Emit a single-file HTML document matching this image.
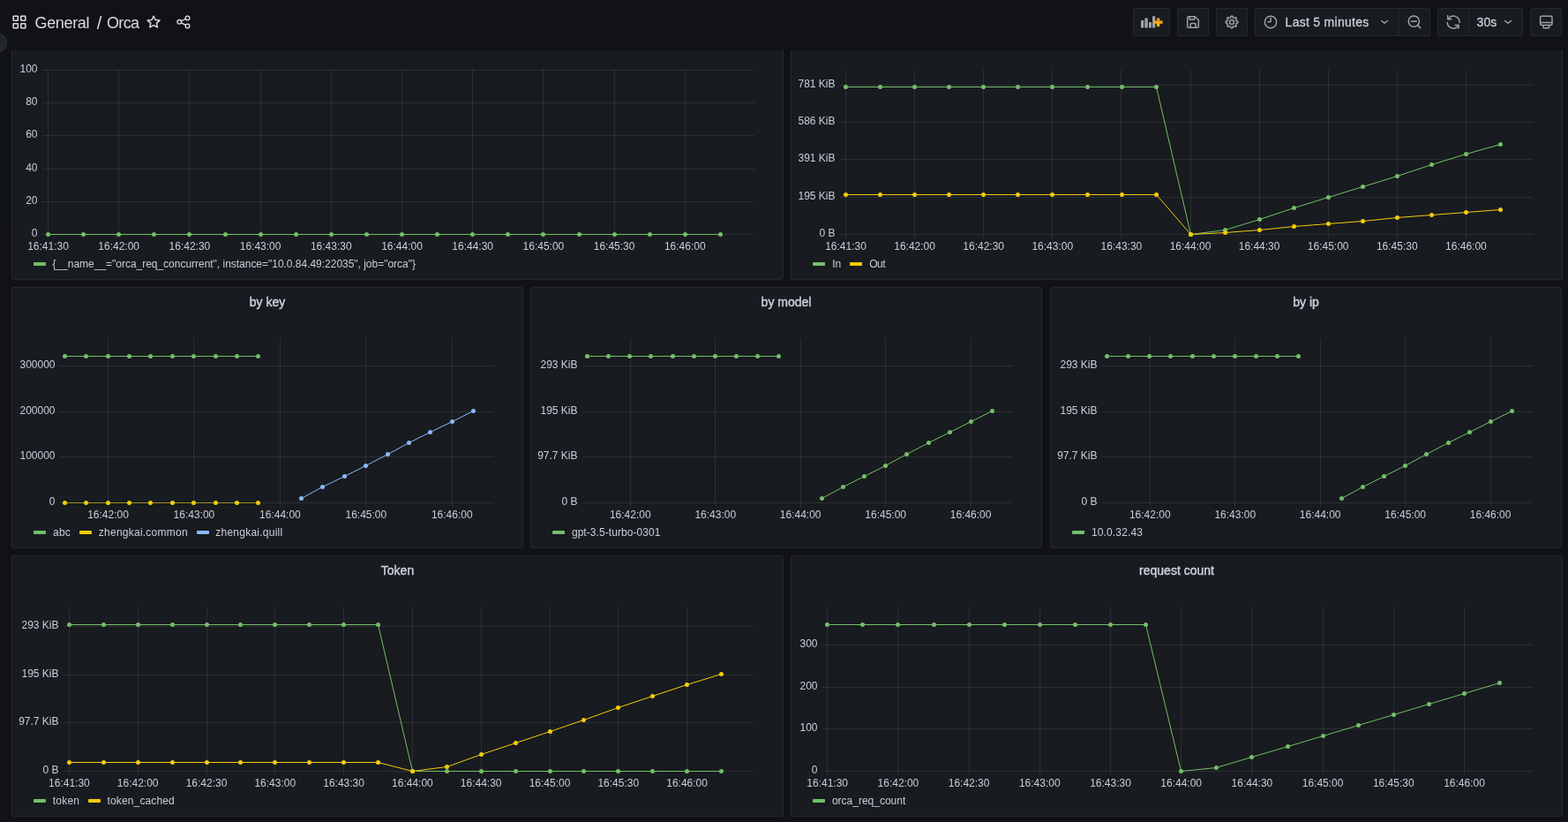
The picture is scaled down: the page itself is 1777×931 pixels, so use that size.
<!DOCTYPE html><html><head><meta charset="utf-8"><title>Orca - Dashboards - Grafana</title><style>

*{box-sizing:border-box}
html,body{margin:0;padding:0}
body{width:1777px;height:931px;background:#111217;overflow:hidden;position:relative;font-family:"Liberation Sans", "DejaVu Sans", sans-serif;color:#ccccdc}
.abs{position:absolute}
.panel{position:absolute;background:#181b1f;border:1px solid rgba(204,204,220,0.08);border-radius:3px}
.ptitle{position:absolute;left:0;right:0;top:6px;text-align:center;font-size:14px;font-weight:normal;-webkit-text-stroke:0.45px #ccccdc;color:#ccccdc;line-height:20px}
.btn{position:absolute;top:9px;height:32px;background:#181b1f;border:1px solid rgba(204,204,220,0.08);border-radius:2px}
.legend{position:absolute;font-size:12px;color:#ccccdc;white-space:nowrap;line-height:16px}
.legend .it{display:inline-block;margin-right:10px}
.legend .bar{display:inline-block;width:14px;height:4px;border-radius:1px;margin-right:8px;vertical-align:middle;position:relative;top:-1px}
.lg{font-size:12px;line-height:16px;white-space:nowrap;color:#ccccdc}
svg text{font-family:"Liberation Sans", "DejaVu Sans", sans-serif;font-size:12px;fill:#ccccdc}

</style></head><body>
<div class="abs" style="left:14px;top:17px;width:16px;height:16px"><svg width="16" height="16" viewBox="0 0 16 16" fill="none" stroke="#d8d9e3" stroke-width="1.6"><rect x="1.2" y="1.2" width="5.1" height="5.1" rx="0.5"/><rect x="9.8" y="1.2" width="5.0" height="5.1" rx="0.5"/><rect x="1.2" y="9.8" width="5.1" height="5.0" rx="0.5"/><rect x="9.8" y="9.8" width="5.0" height="5.0" rx="0.5"/></svg></div>
<div class="abs" style="left:39.5px;top:14px;font-size:18px;line-height:24px;color:#d8d9e3;white-space:nowrap;letter-spacing:-0.35px">General</div>
<div class="abs" style="left:109.8px;top:14.4px;font-size:20px;line-height:24px;color:#d8d9e3;white-space:nowrap">/</div>
<div class="abs" style="left:121px;top:14px;font-size:18px;line-height:24px;color:#d8d9e3;white-space:nowrap;letter-spacing:-0.65px">Orca</div>
<svg class="abs" style="left:165px;top:16px" width="18" height="18" viewBox="0 0 18 18"><path d="M9.1 2.2 L11.1 6.5 L16 7.1 L12.4 10.4 L13.4 14.9 L9.1 12.6 L4.8 14.9 L5.8 10.4 L2.2 7.1 L7.1 6.5 Z" fill="none" stroke="#d8d9e3" stroke-width="1.5" stroke-linejoin="round"/></svg>
<svg class="abs" style="left:198px;top:15px" width="20" height="20" viewBox="0 0 20 20" fill="none" stroke="#d8d9e3" stroke-width="1.4"><circle cx="5.3" cy="9.8" r="2.3"/><circle cx="14.5" cy="5.4" r="2.3"/><circle cx="14.5" cy="14.4" r="2.3"/><line x1="7.4" y1="8.8" x2="12.4" y2="6.4"/><line x1="7.4" y1="10.8" x2="12.4" y2="13.4"/></svg>
<div class="abs" style="left:-15px;top:36.5px;width:23px;height:23px;border-radius:50%;background:#22252b;border:1px solid #2f3238"></div>
<div class="btn" style="left:1284px;width:42px"></div>
<svg class="abs" style="left:1290px;top:16px" width="30" height="18" viewBox="0 0 30 18"><defs><linearGradient id="gp" x1="0" y1="0" x2="0" y2="1"><stop offset="0" stop-color="#f58a30"/><stop offset="1" stop-color="#fcc30f"/></linearGradient></defs><rect x="3" y="7" width="3.2" height="8.4" rx="0.5" fill="#9fa0a8"/><rect x="7.3" y="4.5" width="3.5" height="10.9" rx="0.5" fill="#9fa0a8"/><rect x="12" y="9" width="3" height="6.4" rx="0.5" fill="#9fa0a8"/><rect x="16" y="2.3" width="3.2" height="13.1" rx="0.5" fill="#9fa0a8"/><path d="M21.2 4.8h2.8v3h3.2v2.8h-3.2v3.2h-2.8v-3.2h-3.2v-2.8h3.2z" fill="url(#gp)" stroke="url(#gp)" stroke-width="0.6" stroke-linejoin="round"/></svg>
<div class="btn" style="left:1334px;width:36px"></div>
<svg class="abs" style="left:1342px;top:15px" width="20" height="20" viewBox="0 0 20 20" fill="none" stroke="#9fa0a8" stroke-width="1.5" stroke-linejoin="round"><path d="M5.2 3.75h7.1l4 4.1v7.2a1.3 1.3 0 0 1-1.3 1.3H5a1.3 1.3 0 0 1-1.3-1.3V5.1a1.3 1.3 0 0 1 1.3-1.35z"/><path d="M6.2 3.9v2.5a0.8 0.8 0 0 0 0.8 0.8h3.8a0.8 0.8 0 0 0 0.8-0.8V3.9"/><path d="M7.1 16.2v-3.5a1.1 1.1 0 0 1 1.1-1.1h3.7a1.1 1.1 0 0 1 1.1 1.1v3.5"/></svg>
<div class="btn" style="left:1378px;width:36px"></div>
<svg class="abs" style="left:1386px;top:15px" width="20" height="20" viewBox="0 0 20 20" fill="none" stroke="#9fa0a8" stroke-width="1.45" stroke-linejoin="round"><path d="M16.85 10.00 L16.84 10.18 L16.81 10.36 L16.77 10.53 L16.70 10.70 L16.61 10.87 L16.48 11.03 L16.28 11.16 L15.49 11.17 L15.29 11.27 L15.15 11.38 L15.04 11.49 L14.96 11.61 L14.88 11.73 L14.81 11.85 L14.76 11.97 L14.71 12.10 L14.67 12.23 L14.64 12.37 L14.62 12.51 L14.62 12.67 L14.64 12.84 L14.71 13.06 L15.26 13.62 L15.31 13.86 L15.29 14.06 L15.24 14.24 L15.16 14.41 L15.07 14.57 L14.96 14.71 L14.84 14.84 L14.71 14.96 L14.57 15.07 L14.41 15.16 L14.24 15.24 L14.06 15.29 L13.86 15.31 L13.62 15.26 L13.06 14.71 L12.84 14.64 L12.67 14.62 L12.51 14.62 L12.37 14.64 L12.23 14.67 L12.10 14.71 L11.97 14.76 L11.85 14.81 L11.73 14.88 L11.61 14.96 L11.49 15.04 L11.38 15.15 L11.27 15.29 L11.17 15.49 L11.16 16.28 L11.03 16.48 L10.87 16.61 L10.70 16.70 L10.53 16.77 L10.36 16.81 L10.18 16.84 L10.00 16.85 L9.82 16.84 L9.64 16.81 L9.47 16.77 L9.30 16.70 L9.13 16.61 L8.97 16.48 L8.84 16.28 L8.83 15.49 L8.73 15.29 L8.62 15.15 L8.51 15.04 L8.39 14.96 L8.27 14.88 L8.15 14.81 L8.03 14.76 L7.90 14.71 L7.77 14.67 L7.63 14.64 L7.49 14.62 L7.33 14.62 L7.16 14.64 L6.94 14.71 L6.38 15.26 L6.14 15.31 L5.94 15.29 L5.76 15.24 L5.59 15.16 L5.43 15.07 L5.29 14.96 L5.16 14.84 L5.04 14.71 L4.93 14.57 L4.84 14.41 L4.76 14.24 L4.71 14.06 L4.69 13.86 L4.74 13.62 L5.29 13.06 L5.36 12.84 L5.38 12.67 L5.38 12.51 L5.36 12.37 L5.33 12.23 L5.29 12.10 L5.24 11.97 L5.19 11.85 L5.12 11.73 L5.04 11.61 L4.96 11.49 L4.85 11.38 L4.71 11.27 L4.51 11.17 L3.72 11.16 L3.52 11.03 L3.39 10.87 L3.30 10.70 L3.23 10.53 L3.19 10.36 L3.16 10.18 L3.15 10.00 L3.16 9.82 L3.19 9.64 L3.23 9.47 L3.30 9.30 L3.39 9.13 L3.52 8.97 L3.72 8.84 L4.51 8.83 L4.71 8.73 L4.85 8.62 L4.96 8.51 L5.04 8.39 L5.12 8.27 L5.19 8.15 L5.24 8.03 L5.29 7.90 L5.33 7.77 L5.36 7.63 L5.38 7.49 L5.38 7.33 L5.36 7.16 L5.29 6.94 L4.74 6.38 L4.69 6.14 L4.71 5.94 L4.76 5.76 L4.84 5.59 L4.93 5.43 L5.04 5.29 L5.16 5.16 L5.29 5.04 L5.43 4.93 L5.59 4.84 L5.76 4.76 L5.94 4.71 L6.14 4.69 L6.38 4.74 L6.94 5.29 L7.16 5.36 L7.33 5.38 L7.49 5.38 L7.63 5.36 L7.77 5.33 L7.90 5.29 L8.03 5.24 L8.15 5.19 L8.27 5.12 L8.39 5.04 L8.51 4.96 L8.62 4.85 L8.73 4.71 L8.83 4.51 L8.84 3.72 L8.97 3.52 L9.13 3.39 L9.30 3.30 L9.47 3.23 L9.64 3.19 L9.82 3.16 L10.00 3.15 L10.18 3.16 L10.36 3.19 L10.53 3.23 L10.70 3.30 L10.87 3.39 L11.03 3.52 L11.16 3.72 L11.17 4.51 L11.27 4.71 L11.38 4.85 L11.49 4.96 L11.61 5.04 L11.73 5.12 L11.85 5.19 L11.97 5.24 L12.10 5.29 L12.23 5.33 L12.37 5.36 L12.51 5.38 L12.67 5.38 L12.84 5.36 L13.06 5.29 L13.62 4.74 L13.86 4.69 L14.06 4.71 L14.24 4.76 L14.41 4.84 L14.57 4.93 L14.71 5.04 L14.84 5.16 L14.96 5.29 L15.07 5.43 L15.16 5.59 L15.24 5.76 L15.29 5.94 L15.31 6.14 L15.26 6.38 L14.71 6.94 L14.64 7.16 L14.62 7.33 L14.62 7.49 L14.64 7.63 L14.67 7.77 L14.71 7.90 L14.76 8.03 L14.81 8.15 L14.88 8.27 L14.96 8.39 L15.04 8.51 L15.15 8.62 L15.29 8.73 L15.49 8.83 L16.28 8.84 L16.48 8.97 L16.61 9.13 L16.70 9.30 L16.77 9.47 L16.81 9.64 L16.84 9.82Z"/><circle cx="10" cy="10" r="2.45"/></svg>
<div class="btn" style="left:1422px;width:199px"></div>
<div class="abs" style="left:1585px;top:10px;width:1px;height:30px;background:rgba(204,204,220,0.08)"></div>
<svg class="abs" style="left:1430px;top:15px" width="20" height="20" viewBox="0 0 20 20" fill="none" stroke="#9fa0a8" stroke-width="1.5"><circle cx="10" cy="10" r="6.65"/><path d="M10 5.6v4.2H7" stroke-linecap="round" stroke-linejoin="round"/></svg>
<div class="abs" style="left:1456.6px;top:15.6px;font-size:14px;line-height:18px;color:#ccccdc;white-space:nowrap;letter-spacing:0.28px;-webkit-text-stroke:0.3px #ccccdc">Last 5 minutes</div>
<svg class="abs" style="left:1560px;top:15px" width="20" height="20" viewBox="0 0 20 20" fill="none" stroke="#9fa0a8" stroke-width="1.4" stroke-linecap="round" stroke-linejoin="round"><path d="M5.7 8.5L9 11.3L12.5 8.5"/></svg>
<svg class="abs" style="left:1592px;top:14px" width="22" height="22" viewBox="0 0 22 22" fill="none" stroke="#9fa0a8" stroke-width="1.5"><circle cx="10.3" cy="10.1" r="6.1"/><path d="M6.7 10.2h7.2"/><path d="M14.6 14.6l3.2 3.2" stroke-linecap="round"/></svg>
<div class="btn" style="left:1629px;width:97px"></div>
<div class="abs" style="left:1664px;top:10px;width:1px;height:30px;background:rgba(204,204,220,0.08)"></div>
<svg class="abs" style="left:1636px;top:14px" width="22" height="22" viewBox="0 0 22 22" fill="none" stroke="#9fa0a8" stroke-width="1.5" stroke-linecap="round" stroke-linejoin="round"><path d="M5.59 6.95A6.9 6.9 0 0 1 17.99 11.46"/><path d="M16.75 15.06A6.9 6.9 0 0 1 4.21 11.46"/><path d="M4.7 3.8v4h4"/><path d="M17 18.2v-3.8h-3.8"/></svg>
<div class="abs" style="left:1673.6px;top:15.6px;font-size:14px;line-height:18px;color:#ccccdc;white-space:nowrap;-webkit-text-stroke:0.3px #ccccdc">30s</div>
<svg class="abs" style="left:1700px;top:15px" width="20" height="20" viewBox="0 0 20 20" fill="none" stroke="#9fa0a8" stroke-width="1.4" stroke-linecap="round" stroke-linejoin="round"><path d="M5.7 8.5L9 11.3L12.5 8.5"/></svg>
<div class="btn" style="left:1734px;width:36px"></div>
<svg class="abs" style="left:1741px;top:14px" width="22" height="22" viewBox="0 0 22 22" fill="none" stroke="#9fa0a8" stroke-width="1.5"><rect x="4.6" y="4.3" width="13.4" height="10.3" rx="1.5"/><path d="M4.7 11.5h13.2"/><path d="M8.1 14.7v2.2a0.9 0.9 0 0 0 0.9 0.9h4.7a0.9 0.9 0 0 0 0.9-0.9V14.7"/></svg>
<div class="panel" style="left:13px;top:57px;width:875px;height:260px;border-top:none;border-top-left-radius:0;border-top-right-radius:0;">
</div>
<div class="panel" style="left:896px;top:57px;width:875px;height:260px;border-top:none;border-top-left-radius:0;border-top-right-radius:0;">
</div>
<div class="panel" style="left:13px;top:325px;width:580px;height:296px;">
<div class="ptitle">by key</div>
</div>
<div class="panel" style="left:601px;top:325px;width:580px;height:296px;">
<div class="ptitle">by model</div>
</div>
<div class="panel" style="left:1190px;top:325px;width:580px;height:296px;">
<div class="ptitle">by ip</div>
</div>
<div class="panel" style="left:13px;top:629px;width:875px;height:296px;">
<div class="ptitle">Token</div>
</div>
<div class="panel" style="left:896px;top:629px;width:875px;height:296px;">
<div class="ptitle">request count</div>
</div>
<svg class="abs" style="left:0;top:0" width="1777" height="931" viewBox="0 0 1777 931">
<line x1="48" y1="265.5" x2="855" y2="265.5" stroke="rgba(240,250,255,0.09)" stroke-width="1"/>
<text x="42.5" y="267.9" text-anchor="end">0</text>
<line x1="48" y1="228.5" x2="855" y2="228.5" stroke="rgba(240,250,255,0.09)" stroke-width="1"/>
<text x="42.5" y="230.9" text-anchor="end">20</text>
<line x1="48" y1="191.5" x2="855" y2="191.5" stroke="rgba(240,250,255,0.09)" stroke-width="1"/>
<text x="42.5" y="193.9" text-anchor="end">40</text>
<line x1="48" y1="153.5" x2="855" y2="153.5" stroke="rgba(240,250,255,0.09)" stroke-width="1"/>
<text x="42.5" y="155.9" text-anchor="end">60</text>
<line x1="48" y1="116.5" x2="855" y2="116.5" stroke="rgba(240,250,255,0.09)" stroke-width="1"/>
<text x="42.5" y="118.9" text-anchor="end">80</text>
<line x1="48" y1="79.5" x2="855" y2="79.5" stroke="rgba(240,250,255,0.09)" stroke-width="1"/>
<text x="42.5" y="81.9" text-anchor="end">100</text>
<line x1="54.5" y1="79" x2="54.5" y2="270.0" stroke="rgba(240,250,255,0.09)" stroke-width="1"/>
<text x="54.5" y="283" text-anchor="middle">16:41:30</text>
<line x1="134.5" y1="79" x2="134.5" y2="270.0" stroke="rgba(240,250,255,0.09)" stroke-width="1"/>
<text x="134.7" y="283" text-anchor="middle">16:42:00</text>
<line x1="214.5" y1="79" x2="214.5" y2="270.0" stroke="rgba(240,250,255,0.09)" stroke-width="1"/>
<text x="214.9" y="283" text-anchor="middle">16:42:30</text>
<line x1="295.5" y1="79" x2="295.5" y2="270.0" stroke="rgba(240,250,255,0.09)" stroke-width="1"/>
<text x="295.1" y="283" text-anchor="middle">16:43:00</text>
<line x1="375.5" y1="79" x2="375.5" y2="270.0" stroke="rgba(240,250,255,0.09)" stroke-width="1"/>
<text x="375.3" y="283" text-anchor="middle">16:43:30</text>
<line x1="455.5" y1="79" x2="455.5" y2="270.0" stroke="rgba(240,250,255,0.09)" stroke-width="1"/>
<text x="455.5" y="283" text-anchor="middle">16:44:00</text>
<line x1="535.5" y1="79" x2="535.5" y2="270.0" stroke="rgba(240,250,255,0.09)" stroke-width="1"/>
<text x="535.7" y="283" text-anchor="middle">16:44:30</text>
<line x1="615.5" y1="79" x2="615.5" y2="270.0" stroke="rgba(240,250,255,0.09)" stroke-width="1"/>
<text x="615.9" y="283" text-anchor="middle">16:45:00</text>
<line x1="696.5" y1="79" x2="696.5" y2="270.0" stroke="rgba(240,250,255,0.09)" stroke-width="1"/>
<text x="696.1" y="283" text-anchor="middle">16:45:30</text>
<line x1="776.5" y1="79" x2="776.5" y2="270.0" stroke="rgba(240,250,255,0.09)" stroke-width="1"/>
<text x="776.3000000000001" y="283" text-anchor="middle">16:46:00</text>
<polyline points="54.5,265.5 94.5,265.5 134.5,265.5 174.5,265.5 214.5,265.5 255.5,265.5 295.5,265.5 335.5,265.5 375.5,265.5 415.5,265.5 455.5,265.5 495.5,265.5 535.5,265.5 575.5,265.5 615.5,265.5 656.5,265.5 696.5,265.5 736.5,265.5 776.5,265.5 816.5,265.5" fill="none" stroke="#73bf69" stroke-width="1"/>
<circle cx="54.5" cy="265.5" r="2.5" fill="#73bf69"/>
<circle cx="94.5" cy="265.5" r="2.5" fill="#73bf69"/>
<circle cx="134.5" cy="265.5" r="2.5" fill="#73bf69"/>
<circle cx="174.5" cy="265.5" r="2.5" fill="#73bf69"/>
<circle cx="214.5" cy="265.5" r="2.5" fill="#73bf69"/>
<circle cx="255.5" cy="265.5" r="2.5" fill="#73bf69"/>
<circle cx="295.5" cy="265.5" r="2.5" fill="#73bf69"/>
<circle cx="335.5" cy="265.5" r="2.5" fill="#73bf69"/>
<circle cx="375.5" cy="265.5" r="2.5" fill="#73bf69"/>
<circle cx="415.5" cy="265.5" r="2.5" fill="#73bf69"/>
<circle cx="455.5" cy="265.5" r="2.5" fill="#73bf69"/>
<circle cx="495.5" cy="265.5" r="2.5" fill="#73bf69"/>
<circle cx="535.5" cy="265.5" r="2.5" fill="#73bf69"/>
<circle cx="575.5" cy="265.5" r="2.5" fill="#73bf69"/>
<circle cx="615.5" cy="265.5" r="2.5" fill="#73bf69"/>
<circle cx="656.5" cy="265.5" r="2.5" fill="#73bf69"/>
<circle cx="696.5" cy="265.5" r="2.5" fill="#73bf69"/>
<circle cx="736.5" cy="265.5" r="2.5" fill="#73bf69"/>
<circle cx="776.5" cy="265.5" r="2.5" fill="#73bf69"/>
<circle cx="816.5" cy="265.5" r="2.5" fill="#73bf69"/>
<line x1="952.5" y1="265.5" x2="1737.5" y2="265.5" stroke="rgba(240,250,255,0.09)" stroke-width="1"/>
<text x="946.5" y="267.9" text-anchor="end">0 B</text>
<line x1="952.5" y1="223.5" x2="1737.5" y2="223.5" stroke="rgba(240,250,255,0.09)" stroke-width="1"/>
<text x="946.5" y="225.9" text-anchor="end">195 KiB</text>
<line x1="952.5" y1="180.5" x2="1737.5" y2="180.5" stroke="rgba(240,250,255,0.09)" stroke-width="1"/>
<text x="946.5" y="182.9" text-anchor="end">391 KiB</text>
<line x1="952.5" y1="138.5" x2="1737.5" y2="138.5" stroke="rgba(240,250,255,0.09)" stroke-width="1"/>
<text x="946.5" y="140.9" text-anchor="end">586 KiB</text>
<line x1="952.5" y1="96.5" x2="1737.5" y2="96.5" stroke="rgba(240,250,255,0.09)" stroke-width="1"/>
<text x="946.5" y="98.9" text-anchor="end">781 KiB</text>
<line x1="958.5" y1="79" x2="958.5" y2="270.0" stroke="rgba(240,250,255,0.09)" stroke-width="1"/>
<text x="958.5" y="283" text-anchor="middle">16:41:30</text>
<line x1="1036.5" y1="79" x2="1036.5" y2="270.0" stroke="rgba(240,250,255,0.09)" stroke-width="1"/>
<text x="1036.6" y="283" text-anchor="middle">16:42:00</text>
<line x1="1114.5" y1="79" x2="1114.5" y2="270.0" stroke="rgba(240,250,255,0.09)" stroke-width="1"/>
<text x="1114.7" y="283" text-anchor="middle">16:42:30</text>
<line x1="1192.5" y1="79" x2="1192.5" y2="270.0" stroke="rgba(240,250,255,0.09)" stroke-width="1"/>
<text x="1192.8" y="283" text-anchor="middle">16:43:00</text>
<line x1="1270.5" y1="79" x2="1270.5" y2="270.0" stroke="rgba(240,250,255,0.09)" stroke-width="1"/>
<text x="1270.9" y="283" text-anchor="middle">16:43:30</text>
<line x1="1349.5" y1="79" x2="1349.5" y2="270.0" stroke="rgba(240,250,255,0.09)" stroke-width="1"/>
<text x="1349.0" y="283" text-anchor="middle">16:44:00</text>
<line x1="1427.5" y1="79" x2="1427.5" y2="270.0" stroke="rgba(240,250,255,0.09)" stroke-width="1"/>
<text x="1427.1" y="283" text-anchor="middle">16:44:30</text>
<line x1="1505.5" y1="79" x2="1505.5" y2="270.0" stroke="rgba(240,250,255,0.09)" stroke-width="1"/>
<text x="1505.1999999999998" y="283" text-anchor="middle">16:45:00</text>
<line x1="1583.5" y1="79" x2="1583.5" y2="270.0" stroke="rgba(240,250,255,0.09)" stroke-width="1"/>
<text x="1583.3" y="283" text-anchor="middle">16:45:30</text>
<line x1="1661.5" y1="79" x2="1661.5" y2="270.0" stroke="rgba(240,250,255,0.09)" stroke-width="1"/>
<text x="1661.4" y="283" text-anchor="middle">16:46:00</text>
<polyline points="958.5,98.5 997.5,98.5 1036.5,98.5 1075.5,98.5 1114.5,98.5 1153.5,98.5 1192.5,98.5 1232.5,98.5 1271.5,98.5 1310.5,98.5 1349.5,265.5 1388.5,260.5 1427.5,248.5 1466.5,235.5 1505.5,223.5 1544.5,211.5 1583.5,199.5 1622.5,186.5 1661.5,174.5 1700.5,163.5" fill="none" stroke="#73bf69" stroke-width="1"/>
<circle cx="958.5" cy="98.5" r="2.5" fill="#73bf69"/>
<circle cx="997.5" cy="98.5" r="2.5" fill="#73bf69"/>
<circle cx="1036.5" cy="98.5" r="2.5" fill="#73bf69"/>
<circle cx="1075.5" cy="98.5" r="2.5" fill="#73bf69"/>
<circle cx="1114.5" cy="98.5" r="2.5" fill="#73bf69"/>
<circle cx="1153.5" cy="98.5" r="2.5" fill="#73bf69"/>
<circle cx="1192.5" cy="98.5" r="2.5" fill="#73bf69"/>
<circle cx="1232.5" cy="98.5" r="2.5" fill="#73bf69"/>
<circle cx="1271.5" cy="98.5" r="2.5" fill="#73bf69"/>
<circle cx="1310.5" cy="98.5" r="2.5" fill="#73bf69"/>
<circle cx="1349.5" cy="265.5" r="2.5" fill="#73bf69"/>
<circle cx="1388.5" cy="260.5" r="2.5" fill="#73bf69"/>
<circle cx="1427.5" cy="248.5" r="2.5" fill="#73bf69"/>
<circle cx="1466.5" cy="235.5" r="2.5" fill="#73bf69"/>
<circle cx="1505.5" cy="223.5" r="2.5" fill="#73bf69"/>
<circle cx="1544.5" cy="211.5" r="2.5" fill="#73bf69"/>
<circle cx="1583.5" cy="199.5" r="2.5" fill="#73bf69"/>
<circle cx="1622.5" cy="186.5" r="2.5" fill="#73bf69"/>
<circle cx="1661.5" cy="174.5" r="2.5" fill="#73bf69"/>
<circle cx="1700.5" cy="163.5" r="2.5" fill="#73bf69"/>
<polyline points="958.5,220.5 997.5,220.5 1036.5,220.5 1075.5,220.5 1114.5,220.5 1153.5,220.5 1192.5,220.5 1232.5,220.5 1271.5,220.5 1310.5,220.5 1349.5,265.5 1388.5,263.5 1427.5,260.5 1466.5,256.5 1505.5,253.5 1544.5,250.5 1583.5,246.5 1622.5,243.5 1661.5,240.5 1700.5,237.5" fill="none" stroke="#f2cc0c" stroke-width="1"/>
<circle cx="958.5" cy="220.5" r="2.5" fill="#f2cc0c"/>
<circle cx="997.5" cy="220.5" r="2.5" fill="#f2cc0c"/>
<circle cx="1036.5" cy="220.5" r="2.5" fill="#f2cc0c"/>
<circle cx="1075.5" cy="220.5" r="2.5" fill="#f2cc0c"/>
<circle cx="1114.5" cy="220.5" r="2.5" fill="#f2cc0c"/>
<circle cx="1153.5" cy="220.5" r="2.5" fill="#f2cc0c"/>
<circle cx="1192.5" cy="220.5" r="2.5" fill="#f2cc0c"/>
<circle cx="1232.5" cy="220.5" r="2.5" fill="#f2cc0c"/>
<circle cx="1271.5" cy="220.5" r="2.5" fill="#f2cc0c"/>
<circle cx="1310.5" cy="220.5" r="2.5" fill="#f2cc0c"/>
<circle cx="1349.5" cy="265.5" r="2.5" fill="#f2cc0c"/>
<circle cx="1388.5" cy="263.5" r="2.5" fill="#f2cc0c"/>
<circle cx="1427.5" cy="260.5" r="2.5" fill="#f2cc0c"/>
<circle cx="1466.5" cy="256.5" r="2.5" fill="#f2cc0c"/>
<circle cx="1505.5" cy="253.5" r="2.5" fill="#f2cc0c"/>
<circle cx="1544.5" cy="250.5" r="2.5" fill="#f2cc0c"/>
<circle cx="1583.5" cy="246.5" r="2.5" fill="#f2cc0c"/>
<circle cx="1622.5" cy="243.5" r="2.5" fill="#f2cc0c"/>
<circle cx="1661.5" cy="240.5" r="2.5" fill="#f2cc0c"/>
<circle cx="1700.5" cy="237.5" r="2.5" fill="#f2cc0c"/>
<line x1="68" y1="569.5" x2="559.5" y2="569.5" stroke="rgba(240,250,255,0.09)" stroke-width="1"/>
<text x="62.5" y="571.9" text-anchor="end">0</text>
<line x1="68" y1="517.5" x2="559.5" y2="517.5" stroke="rgba(240,250,255,0.09)" stroke-width="1"/>
<text x="62.5" y="519.9" text-anchor="end">100000</text>
<line x1="68" y1="466.5" x2="559.5" y2="466.5" stroke="rgba(240,250,255,0.09)" stroke-width="1"/>
<text x="62.5" y="468.9" text-anchor="end">200000</text>
<line x1="68" y1="414.5" x2="559.5" y2="414.5" stroke="rgba(240,250,255,0.09)" stroke-width="1"/>
<text x="62.5" y="416.9" text-anchor="end">300000</text>
<line x1="122.5" y1="383" x2="122.5" y2="574.0" stroke="rgba(240,250,255,0.09)" stroke-width="1"/>
<text x="122.5" y="587" text-anchor="middle">16:42:00</text>
<line x1="219.5" y1="383" x2="219.5" y2="574.0" stroke="rgba(240,250,255,0.09)" stroke-width="1"/>
<text x="219.95" y="587" text-anchor="middle">16:43:00</text>
<line x1="317.5" y1="383" x2="317.5" y2="574.0" stroke="rgba(240,250,255,0.09)" stroke-width="1"/>
<text x="317.4" y="587" text-anchor="middle">16:44:00</text>
<line x1="414.5" y1="383" x2="414.5" y2="574.0" stroke="rgba(240,250,255,0.09)" stroke-width="1"/>
<text x="414.85" y="587" text-anchor="middle">16:45:00</text>
<line x1="512.5" y1="383" x2="512.5" y2="574.0" stroke="rgba(240,250,255,0.09)" stroke-width="1"/>
<text x="512.3" y="587" text-anchor="middle">16:46:00</text>
<polyline points="73.5,403.5 97.5,403.5 122.5,403.5 146.5,403.5 170.5,403.5 195.5,403.5 219.5,403.5 244.5,403.5 268.5,403.5 292.5,403.5" fill="none" stroke="#73bf69" stroke-width="1"/>
<circle cx="73.5" cy="403.5" r="2.5" fill="#73bf69"/>
<circle cx="97.5" cy="403.5" r="2.5" fill="#73bf69"/>
<circle cx="122.5" cy="403.5" r="2.5" fill="#73bf69"/>
<circle cx="146.5" cy="403.5" r="2.5" fill="#73bf69"/>
<circle cx="170.5" cy="403.5" r="2.5" fill="#73bf69"/>
<circle cx="195.5" cy="403.5" r="2.5" fill="#73bf69"/>
<circle cx="219.5" cy="403.5" r="2.5" fill="#73bf69"/>
<circle cx="244.5" cy="403.5" r="2.5" fill="#73bf69"/>
<circle cx="268.5" cy="403.5" r="2.5" fill="#73bf69"/>
<circle cx="292.5" cy="403.5" r="2.5" fill="#73bf69"/>
<polyline points="73.5,569.5 97.5,569.5 122.5,569.5 146.5,569.5 170.5,569.5 195.5,569.5 219.5,569.5 244.5,569.5 268.5,569.5 292.5,569.5" fill="none" stroke="#f2cc0c" stroke-width="1" stroke-opacity="0.6"/>
<circle cx="73.5" cy="569.5" r="2.5" fill="#f2cc0c"/>
<circle cx="97.5" cy="569.5" r="2.5" fill="#f2cc0c"/>
<circle cx="122.5" cy="569.5" r="2.5" fill="#f2cc0c"/>
<circle cx="146.5" cy="569.5" r="2.5" fill="#f2cc0c"/>
<circle cx="170.5" cy="569.5" r="2.5" fill="#f2cc0c"/>
<circle cx="195.5" cy="569.5" r="2.5" fill="#f2cc0c"/>
<circle cx="219.5" cy="569.5" r="2.5" fill="#f2cc0c"/>
<circle cx="244.5" cy="569.5" r="2.5" fill="#f2cc0c"/>
<circle cx="268.5" cy="569.5" r="2.5" fill="#f2cc0c"/>
<circle cx="292.5" cy="569.5" r="2.5" fill="#f2cc0c"/>
<polyline points="341.5,564.5 365.5,551.5 390.5,539.5 414.5,527.5 439.5,514.5 463.5,501.5 487.5,489.5 512.5,477.5 536.5,465.5" fill="none" stroke="#8ab8ff" stroke-width="1"/>
<circle cx="341.5" cy="564.5" r="2.5" fill="#8ab8ff"/>
<circle cx="365.5" cy="551.5" r="2.5" fill="#8ab8ff"/>
<circle cx="390.5" cy="539.5" r="2.5" fill="#8ab8ff"/>
<circle cx="414.5" cy="527.5" r="2.5" fill="#8ab8ff"/>
<circle cx="439.5" cy="514.5" r="2.5" fill="#8ab8ff"/>
<circle cx="463.5" cy="501.5" r="2.5" fill="#8ab8ff"/>
<circle cx="487.5" cy="489.5" r="2.5" fill="#8ab8ff"/>
<circle cx="512.5" cy="477.5" r="2.5" fill="#8ab8ff"/>
<circle cx="536.5" cy="465.5" r="2.5" fill="#8ab8ff"/>
<line x1="660.5" y1="569.5" x2="1147" y2="569.5" stroke="rgba(240,250,255,0.09)" stroke-width="1"/>
<text x="654.5" y="571.9" text-anchor="end">0 B</text>
<line x1="660.5" y1="517.5" x2="1147" y2="517.5" stroke="rgba(240,250,255,0.09)" stroke-width="1"/>
<text x="654.5" y="519.9" text-anchor="end">97.7 KiB</text>
<line x1="660.5" y1="466.5" x2="1147" y2="466.5" stroke="rgba(240,250,255,0.09)" stroke-width="1"/>
<text x="654.5" y="468.9" text-anchor="end">195 KiB</text>
<line x1="660.5" y1="414.5" x2="1147" y2="414.5" stroke="rgba(240,250,255,0.09)" stroke-width="1"/>
<text x="654.5" y="416.9" text-anchor="end">293 KiB</text>
<line x1="714.5" y1="383" x2="714.5" y2="574.0" stroke="rgba(240,250,255,0.09)" stroke-width="1"/>
<text x="714.3" y="587" text-anchor="middle">16:42:00</text>
<line x1="810.5" y1="383" x2="810.5" y2="574.0" stroke="rgba(240,250,255,0.09)" stroke-width="1"/>
<text x="810.75" y="587" text-anchor="middle">16:43:00</text>
<line x1="907.5" y1="383" x2="907.5" y2="574.0" stroke="rgba(240,250,255,0.09)" stroke-width="1"/>
<text x="907.1999999999999" y="587" text-anchor="middle">16:44:00</text>
<line x1="1003.5" y1="383" x2="1003.5" y2="574.0" stroke="rgba(240,250,255,0.09)" stroke-width="1"/>
<text x="1003.65" y="587" text-anchor="middle">16:45:00</text>
<line x1="1100.5" y1="383" x2="1100.5" y2="574.0" stroke="rgba(240,250,255,0.09)" stroke-width="1"/>
<text x="1100.1" y="587" text-anchor="middle">16:46:00</text>
<polyline points="665.5,403.5 689.5,403.5 713.5,403.5 737.5,403.5 762.5,403.5 786.5,403.5 810.5,403.5 834.5,403.5 858.5,403.5 882.5,403.5" fill="none" stroke="#73bf69" stroke-width="1"/>
<circle cx="665.5" cy="403.5" r="2.5" fill="#73bf69"/>
<circle cx="689.5" cy="403.5" r="2.5" fill="#73bf69"/>
<circle cx="713.5" cy="403.5" r="2.5" fill="#73bf69"/>
<circle cx="737.5" cy="403.5" r="2.5" fill="#73bf69"/>
<circle cx="762.5" cy="403.5" r="2.5" fill="#73bf69"/>
<circle cx="786.5" cy="403.5" r="2.5" fill="#73bf69"/>
<circle cx="810.5" cy="403.5" r="2.5" fill="#73bf69"/>
<circle cx="834.5" cy="403.5" r="2.5" fill="#73bf69"/>
<circle cx="858.5" cy="403.5" r="2.5" fill="#73bf69"/>
<circle cx="882.5" cy="403.5" r="2.5" fill="#73bf69"/>
<polyline points="931.5,564.5 955.5,551.5 979.5,539.5 1003.5,527.5 1027.5,514.5 1052.5,501.5 1076.5,489.5 1100.5,477.5 1124.5,465.5" fill="none" stroke="#73bf69" stroke-width="1"/>
<circle cx="931.5" cy="564.5" r="2.5" fill="#73bf69"/>
<circle cx="955.5" cy="551.5" r="2.5" fill="#73bf69"/>
<circle cx="979.5" cy="539.5" r="2.5" fill="#73bf69"/>
<circle cx="1003.5" cy="527.5" r="2.5" fill="#73bf69"/>
<circle cx="1027.5" cy="514.5" r="2.5" fill="#73bf69"/>
<circle cx="1052.5" cy="501.5" r="2.5" fill="#73bf69"/>
<circle cx="1076.5" cy="489.5" r="2.5" fill="#73bf69"/>
<circle cx="1100.5" cy="477.5" r="2.5" fill="#73bf69"/>
<circle cx="1124.5" cy="465.5" r="2.5" fill="#73bf69"/>
<line x1="1249.5" y1="569.5" x2="1736" y2="569.5" stroke="rgba(240,250,255,0.09)" stroke-width="1"/>
<text x="1243.5" y="571.9" text-anchor="end">0 B</text>
<line x1="1249.5" y1="517.5" x2="1736" y2="517.5" stroke="rgba(240,250,255,0.09)" stroke-width="1"/>
<text x="1243.5" y="519.9" text-anchor="end">97.7 KiB</text>
<line x1="1249.5" y1="466.5" x2="1736" y2="466.5" stroke="rgba(240,250,255,0.09)" stroke-width="1"/>
<text x="1243.5" y="468.9" text-anchor="end">195 KiB</text>
<line x1="1249.5" y1="414.5" x2="1736" y2="414.5" stroke="rgba(240,250,255,0.09)" stroke-width="1"/>
<text x="1243.5" y="416.9" text-anchor="end">293 KiB</text>
<line x1="1303.5" y1="383" x2="1303.5" y2="574.0" stroke="rgba(240,250,255,0.09)" stroke-width="1"/>
<text x="1303.3" y="587" text-anchor="middle">16:42:00</text>
<line x1="1399.5" y1="383" x2="1399.5" y2="574.0" stroke="rgba(240,250,255,0.09)" stroke-width="1"/>
<text x="1399.75" y="587" text-anchor="middle">16:43:00</text>
<line x1="1496.5" y1="383" x2="1496.5" y2="574.0" stroke="rgba(240,250,255,0.09)" stroke-width="1"/>
<text x="1496.2" y="587" text-anchor="middle">16:44:00</text>
<line x1="1592.5" y1="383" x2="1592.5" y2="574.0" stroke="rgba(240,250,255,0.09)" stroke-width="1"/>
<text x="1592.65" y="587" text-anchor="middle">16:45:00</text>
<line x1="1689.5" y1="383" x2="1689.5" y2="574.0" stroke="rgba(240,250,255,0.09)" stroke-width="1"/>
<text x="1689.1" y="587" text-anchor="middle">16:46:00</text>
<polyline points="1254.5,403.5 1278.5,403.5 1302.5,403.5 1326.5,403.5 1351.5,403.5 1375.5,403.5 1399.5,403.5 1423.5,403.5 1447.5,403.5 1471.5,403.5" fill="none" stroke="#73bf69" stroke-width="1"/>
<circle cx="1254.5" cy="403.5" r="2.5" fill="#73bf69"/>
<circle cx="1278.5" cy="403.5" r="2.5" fill="#73bf69"/>
<circle cx="1302.5" cy="403.5" r="2.5" fill="#73bf69"/>
<circle cx="1326.5" cy="403.5" r="2.5" fill="#73bf69"/>
<circle cx="1351.5" cy="403.5" r="2.5" fill="#73bf69"/>
<circle cx="1375.5" cy="403.5" r="2.5" fill="#73bf69"/>
<circle cx="1399.5" cy="403.5" r="2.5" fill="#73bf69"/>
<circle cx="1423.5" cy="403.5" r="2.5" fill="#73bf69"/>
<circle cx="1447.5" cy="403.5" r="2.5" fill="#73bf69"/>
<circle cx="1471.5" cy="403.5" r="2.5" fill="#73bf69"/>
<polyline points="1520.5,564.5 1544.5,551.5 1568.5,539.5 1592.5,527.5 1616.5,514.5 1641.5,501.5 1665.5,489.5 1689.5,477.5 1713.5,465.5" fill="none" stroke="#73bf69" stroke-width="1"/>
<circle cx="1520.5" cy="564.5" r="2.5" fill="#73bf69"/>
<circle cx="1544.5" cy="551.5" r="2.5" fill="#73bf69"/>
<circle cx="1568.5" cy="539.5" r="2.5" fill="#73bf69"/>
<circle cx="1592.5" cy="527.5" r="2.5" fill="#73bf69"/>
<circle cx="1616.5" cy="514.5" r="2.5" fill="#73bf69"/>
<circle cx="1641.5" cy="501.5" r="2.5" fill="#73bf69"/>
<circle cx="1665.5" cy="489.5" r="2.5" fill="#73bf69"/>
<circle cx="1689.5" cy="477.5" r="2.5" fill="#73bf69"/>
<circle cx="1713.5" cy="465.5" r="2.5" fill="#73bf69"/>
<line x1="72" y1="873.5" x2="854.5" y2="873.5" stroke="rgba(240,250,255,0.09)" stroke-width="1"/>
<text x="66.5" y="875.9" text-anchor="end">0 B</text>
<line x1="72" y1="818.5" x2="854.5" y2="818.5" stroke="rgba(240,250,255,0.09)" stroke-width="1"/>
<text x="66.5" y="820.9" text-anchor="end">97.7 KiB</text>
<line x1="72" y1="764.5" x2="854.5" y2="764.5" stroke="rgba(240,250,255,0.09)" stroke-width="1"/>
<text x="66.5" y="766.9" text-anchor="end">195 KiB</text>
<line x1="72" y1="709.5" x2="854.5" y2="709.5" stroke="rgba(240,250,255,0.09)" stroke-width="1"/>
<text x="66.5" y="711.9" text-anchor="end">293 KiB</text>
<line x1="78.5" y1="687" x2="78.5" y2="878.0" stroke="rgba(240,250,255,0.09)" stroke-width="1"/>
<text x="78.4" y="891" text-anchor="middle">16:41:30</text>
<line x1="156.5" y1="687" x2="156.5" y2="878.0" stroke="rgba(240,250,255,0.09)" stroke-width="1"/>
<text x="156.2" y="891" text-anchor="middle">16:42:00</text>
<line x1="234.5" y1="687" x2="234.5" y2="878.0" stroke="rgba(240,250,255,0.09)" stroke-width="1"/>
<text x="234.0" y="891" text-anchor="middle">16:42:30</text>
<line x1="311.5" y1="687" x2="311.5" y2="878.0" stroke="rgba(240,250,255,0.09)" stroke-width="1"/>
<text x="311.79999999999995" y="891" text-anchor="middle">16:43:00</text>
<line x1="389.5" y1="687" x2="389.5" y2="878.0" stroke="rgba(240,250,255,0.09)" stroke-width="1"/>
<text x="389.6" y="891" text-anchor="middle">16:43:30</text>
<line x1="467.5" y1="687" x2="467.5" y2="878.0" stroke="rgba(240,250,255,0.09)" stroke-width="1"/>
<text x="467.4" y="891" text-anchor="middle">16:44:00</text>
<line x1="545.5" y1="687" x2="545.5" y2="878.0" stroke="rgba(240,250,255,0.09)" stroke-width="1"/>
<text x="545.1999999999999" y="891" text-anchor="middle">16:44:30</text>
<line x1="623.5" y1="687" x2="623.5" y2="878.0" stroke="rgba(240,250,255,0.09)" stroke-width="1"/>
<text x="623.0" y="891" text-anchor="middle">16:45:00</text>
<line x1="700.5" y1="687" x2="700.5" y2="878.0" stroke="rgba(240,250,255,0.09)" stroke-width="1"/>
<text x="700.8" y="891" text-anchor="middle">16:45:30</text>
<line x1="778.5" y1="687" x2="778.5" y2="878.0" stroke="rgba(240,250,255,0.09)" stroke-width="1"/>
<text x="778.5999999999999" y="891" text-anchor="middle">16:46:00</text>
<polyline points="78.5,707.5 117.5,707.5 156.5,707.5 195.5,707.5 234.5,707.5 272.5,707.5 311.5,707.5 350.5,707.5 389.5,707.5 428.5,707.5 467.5,873.5 506.5,873.5 545.5,873.5 584.5,873.5 623.5,873.5 661.5,873.5 700.5,873.5 739.5,873.5 778.5,873.5 817.5,873.5" fill="none" stroke="#73bf69" stroke-width="1"/>
<circle cx="78.5" cy="707.5" r="2.5" fill="#73bf69"/>
<circle cx="117.5" cy="707.5" r="2.5" fill="#73bf69"/>
<circle cx="156.5" cy="707.5" r="2.5" fill="#73bf69"/>
<circle cx="195.5" cy="707.5" r="2.5" fill="#73bf69"/>
<circle cx="234.5" cy="707.5" r="2.5" fill="#73bf69"/>
<circle cx="272.5" cy="707.5" r="2.5" fill="#73bf69"/>
<circle cx="311.5" cy="707.5" r="2.5" fill="#73bf69"/>
<circle cx="350.5" cy="707.5" r="2.5" fill="#73bf69"/>
<circle cx="389.5" cy="707.5" r="2.5" fill="#73bf69"/>
<circle cx="428.5" cy="707.5" r="2.5" fill="#73bf69"/>
<circle cx="467.5" cy="873.5" r="2.5" fill="#73bf69"/>
<circle cx="506.5" cy="873.5" r="2.5" fill="#73bf69"/>
<circle cx="545.5" cy="873.5" r="2.5" fill="#73bf69"/>
<circle cx="584.5" cy="873.5" r="2.5" fill="#73bf69"/>
<circle cx="623.5" cy="873.5" r="2.5" fill="#73bf69"/>
<circle cx="661.5" cy="873.5" r="2.5" fill="#73bf69"/>
<circle cx="700.5" cy="873.5" r="2.5" fill="#73bf69"/>
<circle cx="739.5" cy="873.5" r="2.5" fill="#73bf69"/>
<circle cx="778.5" cy="873.5" r="2.5" fill="#73bf69"/>
<circle cx="817.5" cy="873.5" r="2.5" fill="#73bf69"/>
<polyline points="78.5,863.5 117.5,863.5 156.5,863.5 195.5,863.5 234.5,863.5 272.5,863.5 311.5,863.5 350.5,863.5 389.5,863.5 428.5,863.5 467.5,873.5 506.5,868.5 545.5,854.5 584.5,841.5 623.5,828.5 661.5,815.5 700.5,801.5 739.5,788.5 778.5,775.5 817.5,763.5" fill="none" stroke="#f2cc0c" stroke-width="1"/>
<circle cx="78.5" cy="863.5" r="2.5" fill="#f2cc0c"/>
<circle cx="117.5" cy="863.5" r="2.5" fill="#f2cc0c"/>
<circle cx="156.5" cy="863.5" r="2.5" fill="#f2cc0c"/>
<circle cx="195.5" cy="863.5" r="2.5" fill="#f2cc0c"/>
<circle cx="234.5" cy="863.5" r="2.5" fill="#f2cc0c"/>
<circle cx="272.5" cy="863.5" r="2.5" fill="#f2cc0c"/>
<circle cx="311.5" cy="863.5" r="2.5" fill="#f2cc0c"/>
<circle cx="350.5" cy="863.5" r="2.5" fill="#f2cc0c"/>
<circle cx="389.5" cy="863.5" r="2.5" fill="#f2cc0c"/>
<circle cx="428.5" cy="863.5" r="2.5" fill="#f2cc0c"/>
<circle cx="467.5" cy="873.5" r="2.5" fill="#f2cc0c"/>
<circle cx="506.5" cy="868.5" r="2.5" fill="#f2cc0c"/>
<circle cx="545.5" cy="854.5" r="2.5" fill="#f2cc0c"/>
<circle cx="584.5" cy="841.5" r="2.5" fill="#f2cc0c"/>
<circle cx="623.5" cy="828.5" r="2.5" fill="#f2cc0c"/>
<circle cx="661.5" cy="815.5" r="2.5" fill="#f2cc0c"/>
<circle cx="700.5" cy="801.5" r="2.5" fill="#f2cc0c"/>
<circle cx="739.5" cy="788.5" r="2.5" fill="#f2cc0c"/>
<circle cx="778.5" cy="775.5" r="2.5" fill="#f2cc0c"/>
<circle cx="817.5" cy="763.5" r="2.5" fill="#f2cc0c"/>
<line x1="932" y1="873.5" x2="1737.5" y2="873.5" stroke="rgba(240,250,255,0.09)" stroke-width="1"/>
<text x="926.5" y="875.9" text-anchor="end">0</text>
<line x1="932" y1="825.5" x2="1737.5" y2="825.5" stroke="rgba(240,250,255,0.09)" stroke-width="1"/>
<text x="926.5" y="827.9" text-anchor="end">100</text>
<line x1="932" y1="778.5" x2="1737.5" y2="778.5" stroke="rgba(240,250,255,0.09)" stroke-width="1"/>
<text x="926.5" y="780.9" text-anchor="end">200</text>
<line x1="932" y1="730.5" x2="1737.5" y2="730.5" stroke="rgba(240,250,255,0.09)" stroke-width="1"/>
<text x="926.5" y="732.9" text-anchor="end">300</text>
<line x1="937.5" y1="687" x2="937.5" y2="878.0" stroke="rgba(240,250,255,0.09)" stroke-width="1"/>
<text x="937.7" y="891" text-anchor="middle">16:41:30</text>
<line x1="1017.5" y1="687" x2="1017.5" y2="878.0" stroke="rgba(240,250,255,0.09)" stroke-width="1"/>
<text x="1017.9000000000001" y="891" text-anchor="middle">16:42:00</text>
<line x1="1098.5" y1="687" x2="1098.5" y2="878.0" stroke="rgba(240,250,255,0.09)" stroke-width="1"/>
<text x="1098.1000000000001" y="891" text-anchor="middle">16:42:30</text>
<line x1="1178.5" y1="687" x2="1178.5" y2="878.0" stroke="rgba(240,250,255,0.09)" stroke-width="1"/>
<text x="1178.3000000000002" y="891" text-anchor="middle">16:43:00</text>
<line x1="1258.5" y1="687" x2="1258.5" y2="878.0" stroke="rgba(240,250,255,0.09)" stroke-width="1"/>
<text x="1258.5" y="891" text-anchor="middle">16:43:30</text>
<line x1="1338.5" y1="687" x2="1338.5" y2="878.0" stroke="rgba(240,250,255,0.09)" stroke-width="1"/>
<text x="1338.7" y="891" text-anchor="middle">16:44:00</text>
<line x1="1418.5" y1="687" x2="1418.5" y2="878.0" stroke="rgba(240,250,255,0.09)" stroke-width="1"/>
<text x="1418.9" y="891" text-anchor="middle">16:44:30</text>
<line x1="1499.5" y1="687" x2="1499.5" y2="878.0" stroke="rgba(240,250,255,0.09)" stroke-width="1"/>
<text x="1499.1" y="891" text-anchor="middle">16:45:00</text>
<line x1="1579.5" y1="687" x2="1579.5" y2="878.0" stroke="rgba(240,250,255,0.09)" stroke-width="1"/>
<text x="1579.3000000000002" y="891" text-anchor="middle">16:45:30</text>
<line x1="1659.5" y1="687" x2="1659.5" y2="878.0" stroke="rgba(240,250,255,0.09)" stroke-width="1"/>
<text x="1659.5" y="891" text-anchor="middle">16:46:00</text>
<polyline points="937.5,707.5 977.5,707.5 1017.5,707.5 1058.5,707.5 1098.5,707.5 1138.5,707.5 1178.5,707.5 1218.5,707.5 1258.5,707.5 1298.5,707.5 1338.5,873.5 1378.5,869.5 1418.5,857.5 1459.5,845.5 1499.5,833.5 1539.5,821.5 1579.5,809.5 1619.5,797.5 1659.5,785.5 1699.5,773.5" fill="none" stroke="#73bf69" stroke-width="1"/>
<circle cx="937.5" cy="707.5" r="2.5" fill="#73bf69"/>
<circle cx="977.5" cy="707.5" r="2.5" fill="#73bf69"/>
<circle cx="1017.5" cy="707.5" r="2.5" fill="#73bf69"/>
<circle cx="1058.5" cy="707.5" r="2.5" fill="#73bf69"/>
<circle cx="1098.5" cy="707.5" r="2.5" fill="#73bf69"/>
<circle cx="1138.5" cy="707.5" r="2.5" fill="#73bf69"/>
<circle cx="1178.5" cy="707.5" r="2.5" fill="#73bf69"/>
<circle cx="1218.5" cy="707.5" r="2.5" fill="#73bf69"/>
<circle cx="1258.5" cy="707.5" r="2.5" fill="#73bf69"/>
<circle cx="1298.5" cy="707.5" r="2.5" fill="#73bf69"/>
<circle cx="1338.5" cy="873.5" r="2.5" fill="#73bf69"/>
<circle cx="1378.5" cy="869.5" r="2.5" fill="#73bf69"/>
<circle cx="1418.5" cy="857.5" r="2.5" fill="#73bf69"/>
<circle cx="1459.5" cy="845.5" r="2.5" fill="#73bf69"/>
<circle cx="1499.5" cy="833.5" r="2.5" fill="#73bf69"/>
<circle cx="1539.5" cy="821.5" r="2.5" fill="#73bf69"/>
<circle cx="1579.5" cy="809.5" r="2.5" fill="#73bf69"/>
<circle cx="1619.5" cy="797.5" r="2.5" fill="#73bf69"/>
<circle cx="1659.5" cy="785.5" r="2.5" fill="#73bf69"/>
<circle cx="1699.5" cy="773.5" r="2.5" fill="#73bf69"/>
</svg>
<div class="abs" style="left:38px;top:297px;width:14px;height:4px;border-radius:1px;background:#73bf69"></div>
<div class="abs lg" id="lg0" style="left:59.5px;top:290.5px;letter-spacing:-0.02px">{__name__="orca_req_concurrent", instance="10.0.84.49:22035", job="orca"}</div>
<div class="abs" style="left:921px;top:297px;width:14px;height:4px;border-radius:1px;background:#73bf69"></div>
<div class="abs lg" id="lg1" style="left:943.3px;top:290.5px;letter-spacing:-0.2px">In</div>
<div class="abs" style="left:963px;top:297px;width:14px;height:4px;border-radius:1px;background:#f2cc0c"></div>
<div class="abs lg" id="lg2" style="left:985.2px;top:290.5px;letter-spacing:-0.5px">Out</div>
<div class="abs" style="left:38px;top:601px;width:14px;height:4px;border-radius:1px;background:#73bf69"></div>
<div class="abs lg" id="lg3" style="left:60.0px;top:595px;letter-spacing:0.25px">abc</div>
<div class="abs" style="left:90px;top:601px;width:14px;height:4px;border-radius:1px;background:#f2cc0c"></div>
<div class="abs lg" id="lg4" style="left:111.8px;top:595px;letter-spacing:0.245px">zhengkai.common</div>
<div class="abs" style="left:223px;top:601px;width:14px;height:4px;border-radius:1px;background:#8ab8ff"></div>
<div class="abs lg" id="lg5" style="left:244.3px;top:595px;letter-spacing:0.24px">zhengkai.quill</div>
<div class="abs" style="left:626px;top:601px;width:14px;height:4px;border-radius:1px;background:#73bf69"></div>
<div class="abs lg" id="lg6" style="left:647.9px;top:595px;letter-spacing:0.065px">gpt-3.5-turbo-0301</div>
<div class="abs" style="left:1215px;top:601px;width:14px;height:4px;border-radius:1px;background:#73bf69"></div>
<div class="abs lg" id="lg7" style="left:1236.9px;top:595px;letter-spacing:0.15px">10.0.32.43</div>
<div class="abs" style="left:38px;top:905px;width:14px;height:4px;border-radius:1px;background:#73bf69"></div>
<div class="abs lg" id="lg8" style="left:59.8px;top:899px;letter-spacing:0.2px">token</div>
<div class="abs" style="left:100px;top:905px;width:14px;height:4px;border-radius:1px;background:#f2cc0c"></div>
<div class="abs lg" id="lg9" style="left:121.6px;top:899px;letter-spacing:0.13px">token_cached</div>
<div class="abs" style="left:921px;top:905px;width:14px;height:4px;border-radius:1px;background:#73bf69"></div>
<div class="abs lg" id="lg10" style="left:942.9px;top:899px;letter-spacing:0.0px">orca_req_count</div>
</body></html>
